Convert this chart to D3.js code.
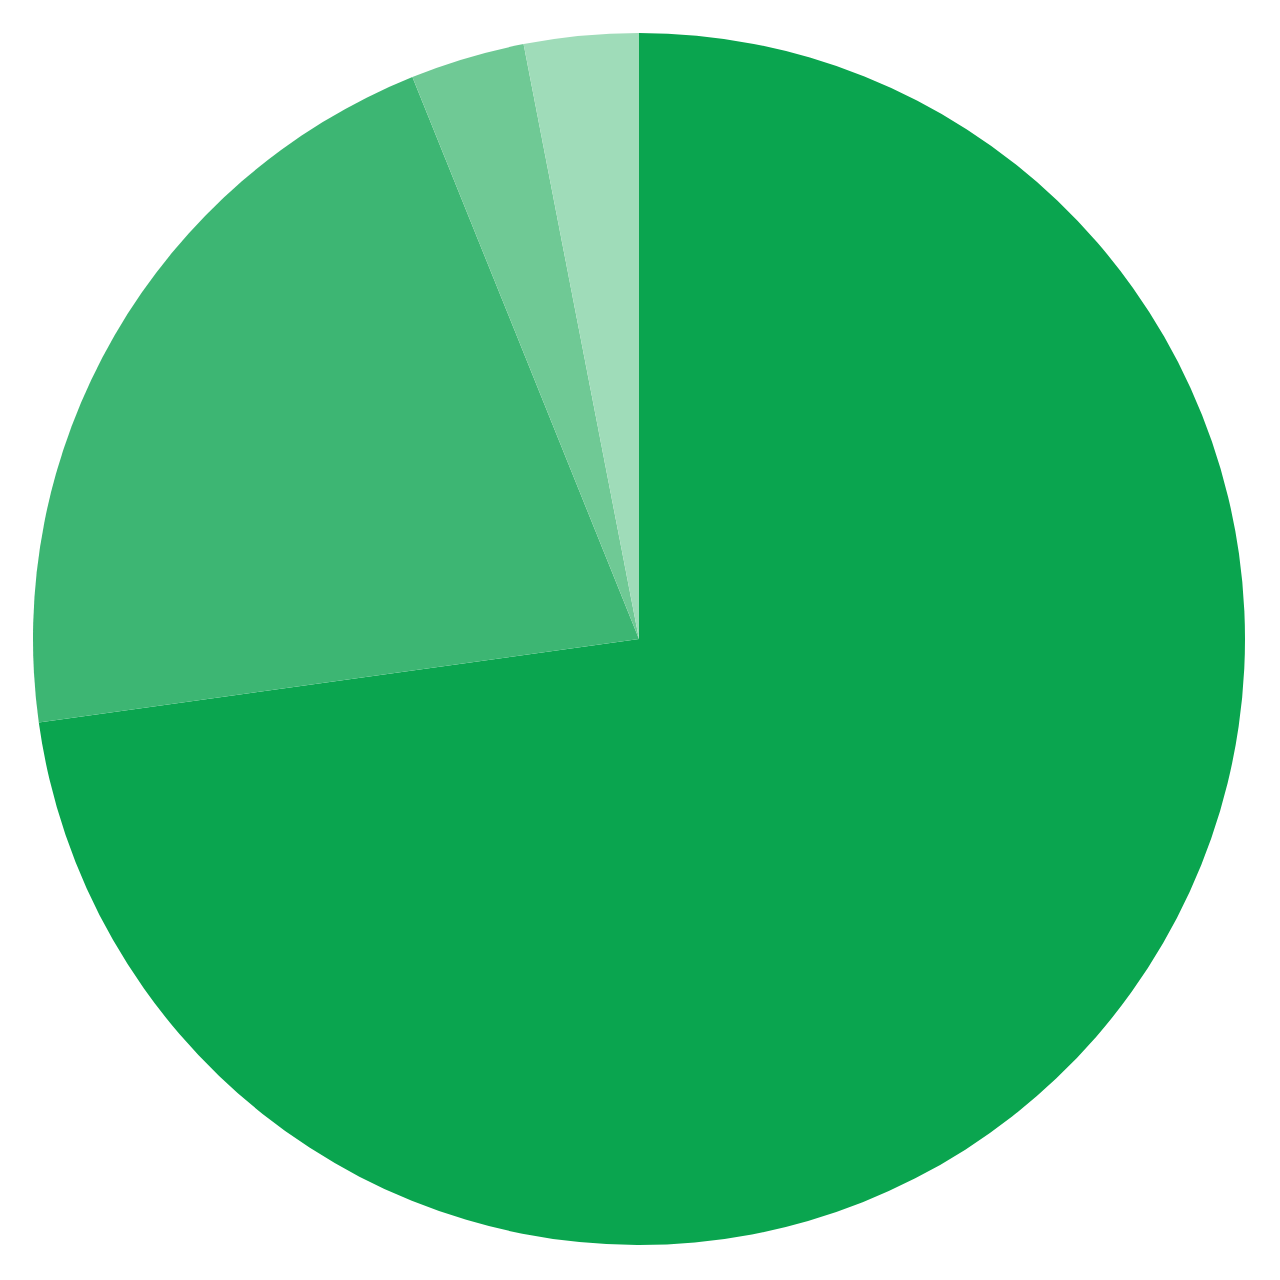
<!DOCTYPE html>
<html>
<head>
<meta charset="utf-8">
<script src="https://cdn.jsdelivr.net/npm/d3@7"></script>
<style>
  html, body { margin: 0; padding: 0; background: #fff; }
  svg { display: block; }
</style>
</head>
<body>
<div id="chart"></div>
<script>
// Slice values, clockwise from 12 o'clock
const categories = ["A", "B", "C", "D"];
const values = [72.8, 21.1, 3.05, 3.05];
const colors = ["#0aa54f", "#3db673", "#6fc995", "#9fdcb9"];

const width = 1280;
const height = 1280;
const cx = 639;
const cy = 639;
const radius = 606;

const svg = d3
  .select("#chart")
  .append("svg")
  .attr("width", width)
  .attr("height", height);

const g = svg.append("g").attr("transform", `translate(${cx}, ${cy})`);

const pie = d3.pie().sort(null).value((d) => d.value);
const arc = d3.arc().innerRadius(0).outerRadius(radius);

const data = categories.map((c, i) => ({ name: c, value: values[i] }));

g.selectAll("path")
  .data(pie(data))
  .enter()
  .append("path")
  .attr("d", arc)
  .attr("fill", (d, i) => colors[i]);
</script>
</body>
</html>
